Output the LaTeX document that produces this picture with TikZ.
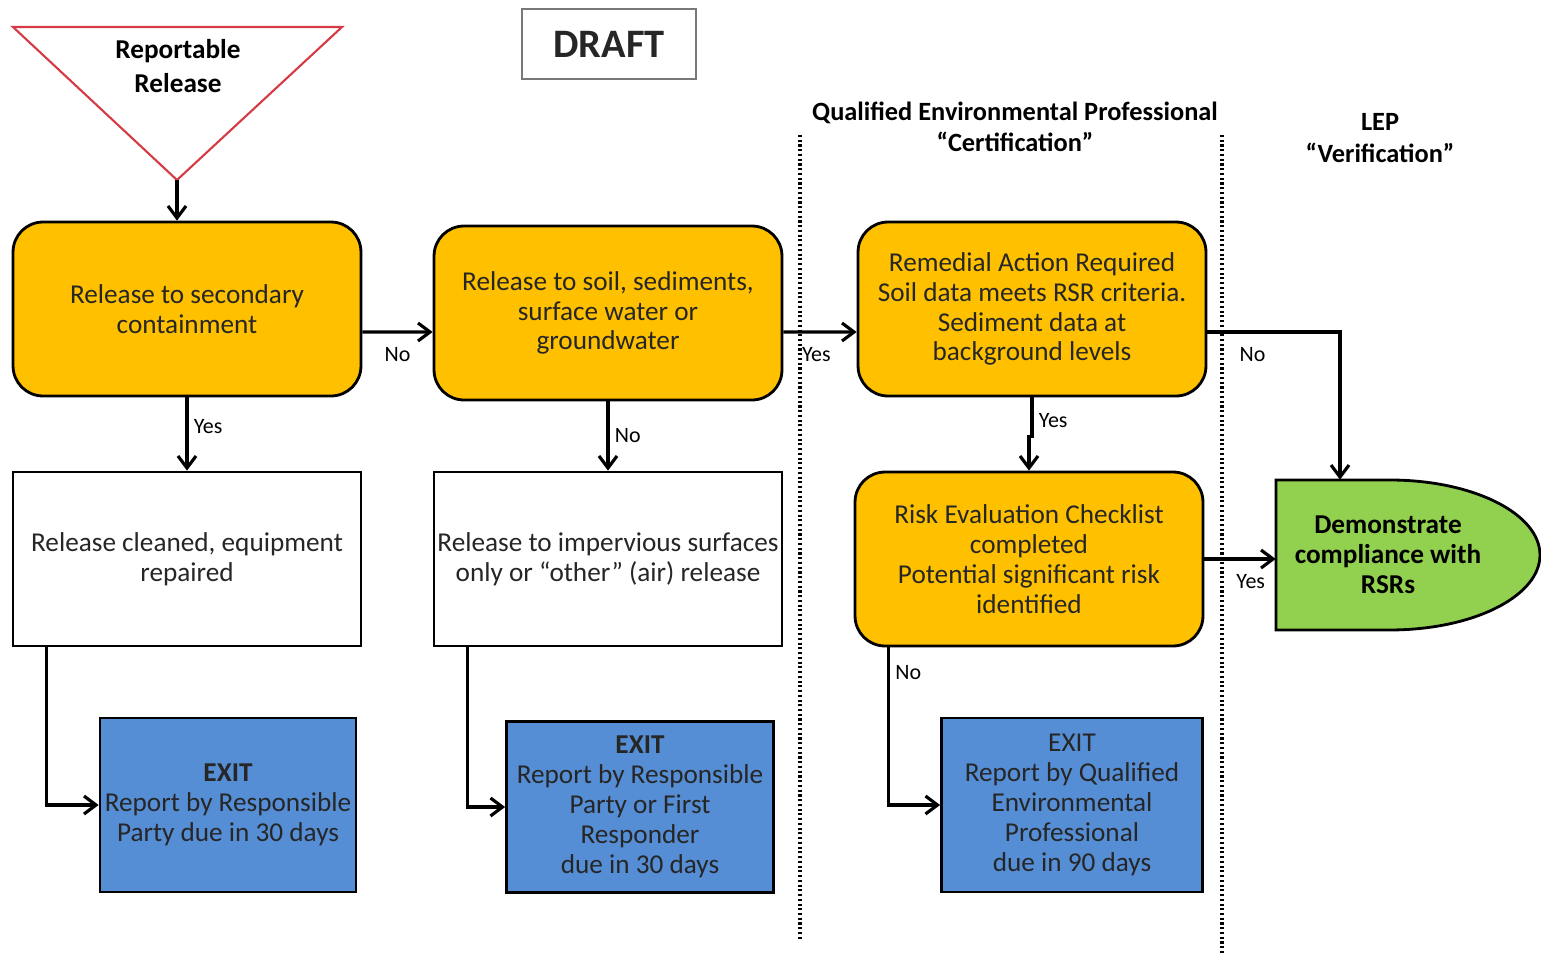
\documentclass[tikz,border=0pt]{standalone}
\usepackage{fontspec}
\setmainfont{Carlito}
\usepackage{tikz}
\usetikzlibrary{shapes,arrows.meta,positioning,calc}
\usepackage{xcolor}

\definecolor{rsOrange}{RGB}{255,192,0}
\definecolor{rsBlue}{RGB}{85,142,213}
\definecolor{rsGreen}{RGB}{146,208,80}
\definecolor{rsRed}{RGB}{214,58,68}
\definecolor{rsGray}{RGB}{120,120,120}

\tikzset{
    boxtext/.style={align=center, text=black!85, font=\fontsize{15.5}{17}\selectfont},
    decision/.style={boxtext, draw, fill=rsOrange, rounded corners=0.6cm, line width=1.6pt,
        minimum width=6.96cm, minimum height=3.48cm},
    outcome/.style={boxtext, draw, fill=white, line width=1.6pt, inner xsep=1pt,
        minimum width=6.96cm, minimum height=3.48cm},
    exitbox/.style={boxtext, draw, fill=rsBlue, line width=1.6pt, inner xsep=1pt, minimum height=3.48cm},
    flow/.style={-{Straight Barb[length=2.4mm,width=3.6mm]}, line width=1.8pt},
    flowtag/.style={font=\fontsize{12.5}{14}\selectfont, inner sep=1pt},
    header/.style={align=center, font=\bfseries\fontsize{15}{18}\selectfont},
    zone/.style={line width=1.8pt, dash pattern=on 1.2pt off 1.5pt},
}

\begin{document}
\begin{tikzpicture}[x=0.02cm, y=-0.02cm]
    \useasboundingbox (0,0) rectangle (1541,954);

    % Trigger triangle
    \filldraw[draw=rsRed, fill=white, line width=1.2pt] (13,27) -- (342,27) -- (177,180) -- cycle;
    \coordinate (apex) at (177,180);
    \node[header, font=\bfseries\fontsize{15.5}{19}\selectfont] (trigger) at (178,66) {Reportable\\Release};

    % Draft stamp
    \node[draw=rsGray, line width=1.3pt, minimum width=3.48cm, minimum height=1.4cm,
        font=\bfseries\fontsize{23}{26}\selectfont, text=black!85] (draft) at (609,44) {DRAFT};

    % Zone headers and dividers
    \node[header] (qep) at (1015,127) {Qualified Environmental Professional\\``Certification''};
    \node[header] (lep) at (1380,138) {LEP\\``Verification''};
    \draw[zone] (800,135) -- (800,940);
    \draw[zone] (1222,135) -- (1222,954);

    % Decision boxes
    \node[decision] (secondary) at (187,309) {Release to secondary\\containment};
    \node[decision] (soil) at (608,313) {Release to soil, sediments,\\surface water or\\groundwater};
    \node[decision] (remedial) at (1032,309) {Remedial Action Required\\Soil data meets RSR criteria.\\Sediment data at\\background levels};

    % Outcome boxes
    \node[outcome] (cleaned) at (187,559) {Release cleaned, equipment\\repaired};
    \node[outcome] (impervious) at (608,559) {Release to impervious surfaces\\only or ``other'' (air) release};
    \node[decision] (risk) at (1029,559) {Risk Evaluation Checklist\\completed\\Potential significant risk\\identified};

    % Verification shape
    \filldraw[fill=rsGreen, line width=1.6pt] (1276,480) -- (1390,480)
        arc[start angle=90, end angle=-90, x radius=3cm, y radius=1.5cm] -- (1276,630) -- cycle;
    \node[header, minimum width=4.48cm, minimum height=3cm, font=\bfseries\fontsize{15.5}{17}\selectfont]
        (verify) at (1388,555) {Demonstrate\\compliance with\\RSRs};

    % Exit boxes
    \node[exitbox, minimum width=5.12cm] (exitone) at (228,805) {\textbf{EXIT}\\Report by Responsible\\Party due in 30 days};
    \node[exitbox, minimum width=5.34cm, minimum height=3.42cm] (exittwo) at (640,807) {\textbf{EXIT}\\Report by Responsible\\Party or First\\Responder\\due in 30 days};
    \node[exitbox, minimum width=5.22cm] (exitthree) at (1072,805) {EXIT\\Report by Qualified\\Environmental\\Professional\\due in 90 days};

    % Connectors
    \draw[flow] (apex) -- (apex |- secondary.north);
    \draw[flow] ([yshift=-0.46cm]secondary.east) -- ([yshift=-0.38cm]soil.west)
        node[flowtag, midway, below=7pt] {No};
    \draw[flow] (secondary.south) -- (cleaned.north)
        node[flowtag, pos=0.4, right=2pt] {Yes};
    \draw[flow] (soil.south) -- (impervious.north)
        node[flowtag, midway, right=2pt] {No};
    \draw[flow] ([yshift=-0.38cm]soil.east) -- ([yshift=-0.46cm]remedial.west)
        node[flowtag, pos=0.45, below=7pt] {Yes};
    \draw[flow] (remedial.south) -- ++(0,39) node[flowtag, pos=0.6, right=2pt] {Yes} -| (risk.north);
    \draw[flow] ([yshift=-0.46cm]remedial.east) -| ([xshift=-0.96cm]verify.north)
        node[flowtag, pos=0.17, below=7pt] {No};
    \draw[flow] (risk.east) -- (risk.east -| verify.west)
        node[flowtag, pos=0.65, below=7pt] {Yes};
    \draw[flow] ([xshift=0.7cm]cleaned.south west) |- (exitone.west);
    \draw[flow] ([xshift=0.7cm]impervious.south west) |- (exittwo.west);
    \draw[flow] ([xshift=0.7cm]risk.south west) |- (exitthree.west)
        node[flowtag, pos=0.08, right=2pt] {No};
\end{tikzpicture}
\end{document}
